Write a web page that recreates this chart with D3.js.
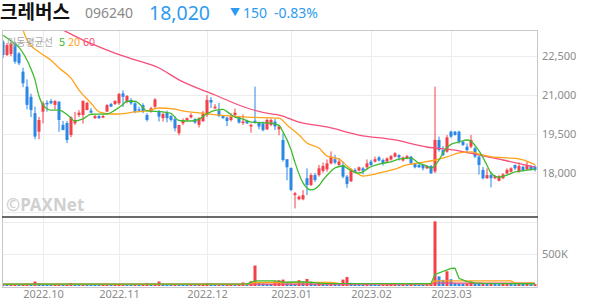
<!DOCTYPE html>
<html>
<head>
<meta charset="utf-8">
<script src="https://cdn.jsdelivr.net/npm/d3@7"></script>
<style>
	body { margin: 0; background: #fff; }
	text { font-family: "Noto Sans", "Noto Sans CJK KR", sans-serif; }
</style>
</head>
<body>
<div id="chart"></div>
<script>
/*********************************************************** DONNEES *****/

// trading days shown on the chart
const dates = [
	"2022.09.19","2022.09.20","2022.09.21","2022.09.22","2022.09.23","2022.09.26","2022.09.27","2022.09.28","2022.09.29","2022.09.30",
	"2022.10.04","2022.10.05","2022.10.06","2022.10.07","2022.10.11","2022.10.12","2022.10.13","2022.10.14","2022.10.17","2022.10.18",
	"2022.10.19","2022.10.20","2022.10.21","2022.10.24","2022.10.25","2022.10.26","2022.10.27","2022.10.28","2022.10.31",
	"2022.11.01","2022.11.02","2022.11.03","2022.11.04","2022.11.07","2022.11.08","2022.11.09","2022.11.10","2022.11.11","2022.11.14",
	"2022.11.15","2022.11.16","2022.11.17","2022.11.18","2022.11.21","2022.11.22","2022.11.23","2022.11.24","2022.11.25","2022.11.28",
	"2022.11.29","2022.11.30",
	"2022.12.01","2022.12.02","2022.12.05","2022.12.06","2022.12.07","2022.12.08","2022.12.09","2022.12.12","2022.12.13","2022.12.14",
	"2022.12.15","2022.12.16","2022.12.19","2022.12.20","2022.12.21","2022.12.22","2022.12.23","2022.12.26","2022.12.27","2022.12.28",
	"2022.12.29",
	"2023.01.02","2023.01.03","2023.01.04","2023.01.05","2023.01.06","2023.01.09","2023.01.10","2023.01.11","2023.01.12","2023.01.13",
	"2023.01.16","2023.01.17","2023.01.18","2023.01.19","2023.01.20","2023.01.25","2023.01.26","2023.01.27","2023.01.30","2023.01.31",
	"2023.02.01","2023.02.02","2023.02.03","2023.02.06","2023.02.07","2023.02.08","2023.02.09","2023.02.10","2023.02.13","2023.02.14",
	"2023.02.15","2023.02.16","2023.02.17","2023.02.20","2023.02.21","2023.02.22","2023.02.23","2023.02.24","2023.02.27","2023.02.28",
	"2023.03.02","2023.03.03","2023.03.06","2023.03.07","2023.03.08","2023.03.09","2023.03.10","2023.03.13","2023.03.14","2023.03.15",
	"2023.03.16","2023.03.17","2023.03.20","2023.03.21","2023.03.22","2023.03.23","2023.03.24","2023.03.27","2023.03.28","2023.03.29",
	"2023.03.30","2023.03.31"
];

const open = [
	23050,22540,22580,22990,22600,21900,21320,20930,20300,19590,
	20360,20700,20770,20620,20740,19850,19920,19460,19910,20230,
	20230,20420,20400,20110,20190,20130,20360,20650,20650,20680,
	21060,20740,20810,20680,20450,20610,20230,20360,20550,20360,
	20110,20330,20190,20070,19530,19910,20040,20140,20070,19850,
	19990,20230,20810,20490,20400,20190,20130,20040,20230,20170,
	19920,20000,19790,20010,19940,19910,19680,19850,19980,19680,
	19270,18530,18200,17150,16990,16990,17800,17540,17920,17920,
	18080,18140,18370,18530,18310,18310,17860,17680,18120,18090,
	18180,18220,18440,18440,18600,18500,18440,18520,18630,18690,
	18480,18560,18630,18350,18310,18310,18180,18270,18060,19270,
	18880,18820,19590,19590,19590,19200,19010,19010,18950,18630,
	18120,17800,17920,17800,17700,17800,17980,18050,18310,18050,
	18240,18140,18270,18240
];
const high = [
	23120,23000,23050,23050,22650,22050,21600,21050,20550,20160,
	20750,20800,20850,20800,20770,20000,20000,20180,20350,20420,
	20800,20740,20500,20230,20230,20230,20650,20700,20800,21080,
	21180,21000,20880,20740,20550,20680,20300,20550,20880,20420,
	20320,20400,20230,20180,19850,20100,20130,20300,20110,20150,
	20380,21000,20920,20650,20700,20230,20170,20300,20480,20200,
	20250,20050,19900,21320,19980,19980,20100,20100,20080,19830,
	19520,18530,18200,17270,17140,17340,18180,17990,18000,18310,
	18400,18520,18830,18700,18570,18440,17920,18180,18180,18250,
	18230,18520,18510,18630,18650,18560,18600,18690,18800,18720,
	18630,18700,18660,18380,18340,18350,18300,18310,21320,19400,
	19030,19460,19630,19620,19630,19260,19140,19460,19020,18690,
	18230,18180,18050,17920,17920,17990,18180,18220,18320,18410,
	18280,18440,18300,18300
];
const low = [
	22420,22500,22500,22200,22150,21300,20450,20150,19300,19300,
	19910,20360,20640,20450,19580,19650,19150,19380,19850,20150,
	19900,20420,20300,20080,20080,20110,20360,20550,20620,20620,
	20540,20680,20620,20300,20360,20300,19980,20320,20480,19980,
	19980,19950,19980,19600,19450,19850,20000,20100,19900,19750,
	19970,20150,20500,20450,20150,20080,19800,19980,20150,19900,
	19850,19880,19550,19900,19680,19600,19650,19800,19650,19450,
	18440,17720,17300,16640,16950,16950,17150,17500,17660,17860,
	18010,18050,18330,18340,18280,17800,17430,17650,17990,18060,
	17950,18150,18260,18400,18440,18290,18400,18480,18600,18480,
	18440,18530,18340,18180,18200,18100,18150,17960,18000,18820,
	18650,18780,19340,19440,19130,19040,18750,18950,18570,17940,
	17750,17770,17450,17760,17680,17760,17940,18020,18120,18010,
	18060,18100,18100,18060
];
const close = [
	22540,22920,22990,22280,22220,21450,20620,20420,19400,20040,
	20680,20640,20680,20770,20040,19650,19270,20140,20040,20320,
	20770,20700,20320,20190,20110,20190,20610,20550,20770,21040,
	20930,20960,20680,20360,20400,20360,20040,20490,20830,20170,
	20270,20110,20040,19720,19850,20040,20110,20230,19940,20100,
	20320,20810,20710,20550,20190,20110,20000,20170,20320,19940,
	19980,19910,19850,19940,19790,19650,20040,20040,19790,19790,
	18500,18220,17350,17220,17090,17150,17540,17920,17730,18180,
	18270,18370,18630,18400,18440,17860,17580,18120,18010,18220,
	18090,18370,18310,18530,18480,18370,18560,18650,18760,18600,
	18600,18650,18370,18220,18220,18180,18270,17990,19270,18880,
	18690,19370,19400,19460,19200,19080,18880,19270,18630,18310,
	17800,17920,17800,17880,17880,17950,18120,18180,18180,18270,
	18090,18310,18140,18120
];
const volume = [
	30000,25000,28000,30000,28000,32000,35000,33000,70000,40000,
	30000,25000,22000,25000,30000,28000,30000,45000,30000,25000,
	32000,28000,25000,22000,20000,22000,30000,25000,28000,32000,
	35000,28000,25000,30000,22000,28000,40000,30000,35000,70000,
	35000,30000,28000,32000,30000,25000,22000,25000,22000,28000,
	30000,42000,35000,28000,30000,25000,28000,30000,28000,30000,
	55000,35000,75000,320000,55000,40000,35000,32000,75000,90000,
	100000,45000,42000,35000,90000,70000,110000,70000,35000,50000,
	30000,28000,35000,30000,28000,100000,140000,50000,30000,28000,
	25000,30000,28000,25000,22000,25000,28000,30000,32000,25000,
	28000,25000,30000,28000,25000,22000,28000,30000,1010000,150000,
	95000,230000,105000,50000,40000,38000,40000,70000,45000,40000,
	45000,35000,40000,30000,28000,32000,35000,30000,28000,35000,
	30000,32000,28000,30000
];

// moving averages: [day index, value]
const ma5 = [
	[0,23300],[2,23080],[4,22830],[7,22000],[8,21580],[9,20950],[10,20620],[12,20420],[14,20420],[16,20250],
	[18,20000],[20,20080],[22,20260],[26,20270],[28,20420],[30,20640],[31,20760],[33,20760],[34,20670],[36,20390],
	[40,20350],[42,20290],[44,20020],[47,20000],[49,20070],[51,20280],[53,20410],[55,20450],[56,20360],[58,20150],
	[60,20070],[62,19960],[67,19920],[69,19830],[70,19580],[72,18900],[73,18400],[75,17620],[77,17350],[79,17520],
	[80,17730],[82,18070],[83,18200],[85,18270],[86,18190],[88,18020],[89,18000],[92,18240],[94,18340],[97,18430],
	[99,18530],[102,18570],[104,18380],[106,18270],[107,18190],[109,18500],[110,18770],[112,19100],[114,19190],[116,19270],
	[117,19220],[119,18850],[121,18300],[122,18000],[124,17840],[126,17920],[128,18040],[131,18110],[133,18150]
];
const ma20 = [
	[5,23500],[6,23120],[9,22650],[12,22340],[14,22040],[17,21650],[19,21190],[22,20690],[24,20350],[27,20270],
	[29,20270],[33,20350],[36,20390],[39,20500],[43,20460],[44,20420],[49,20310],[57,20190],[61,20150],[69,20110],
	[71,19850],[74,19460],[76,19150],[79,18960],[81,18650],[84,18540],[86,18270],[88,18040],[90,17880],[93,17960],
	[94,18000],[98,18150],[101,18310],[104,18390],[108,18500],[111,18620],[114,18770],[117,18810],[119,18730],[123,18610],
	[126,18580],[129,18540],[132,18390],[133,18310]
];
const ma60 = [
	[15,23500],[16,23420],[21,23040],[26,22730],[32,22400],[39,22040],[44,21580],[53,21000],[61,20500],[67,20270],
	[69,20230],[74,19960],[81,19770],[89,19460],[98,19270],[106,19000],[113,18880],[118,18730],[125,18500],[133,18230]
];
const vma5 = [
	[0,30000],[61,32000],[63,80000],[68,80000],[70,60000],[75,65000],[80,40000],[107,38000],[108,180000],[112,275000],
	[113,280000],[114,120000],[116,70000],[118,50000],[120,40000],[133,35000]
];
const vma20 = [
	[0,25000],[61,28000],[63,55000],[82,55000],[84,40000],[107,38000],[108,80000],[127,80000],[128,45000],[133,45000]
];
const vma60 = [[0,28000],[107,30000],[108,45000],[133,45000]];

const priceTicks = [16500, 18000, 19500, 21000, 22500];
const volumeTicks = [500000, 1000000];
const monthLabels = ["2022.10","2022.11","2022.12","2023.01","2023.02","2023.03"];

/*********************************************************** CARTE *****/

const width = 594, height = 304;
const plotLeft = 2, plotRight = 537, plotTop = 30, plotSplit = 217, plotBottom = 287;
const up = "#f2414b", down = "#2b88e6";
const c5 = "#3dbb2e", c20 = "#ffa31a", c60 = "#f74f78";

const svg = d3.select("#chart")
	.append("svg")
	.attr("width", width)
	.attr("height", height);

const x = d3.scalePoint().domain(dates).range([3, 535]);
const xi = d3.scaleLinear().domain([0, dates.length - 1]).range([3, 535]);
const y = d3.scaleLinear().domain([16500, 22500]).range([212, 56]);
const yv = d3.scaleLinear().domain([0, 1000000]).range([286, 222]);

svg.append("clipPath").attr("id", "clipP")
	.append("rect").attr("x", plotLeft).attr("y", plotTop).attr("width", plotRight - plotLeft).attr("height", plotSplit - plotTop);
svg.append("clipPath").attr("id", "clipV")
	.append("rect").attr("x", plotLeft).attr("y", plotSplit).attr("width", plotRight - plotLeft).attr("height", plotBottom - plotSplit);

// month ticks: first trading day of each month
const monthStarts = dates.filter((d, i) => i > 0 && d.slice(0, 7) != dates[i - 1].slice(0, 7));

// grid
const grid = svg.append("g").attr("stroke", "#ececec").attr("stroke-width", 1);
grid.selectAll(".v")
	.data(monthStarts)
	.enter()
	.append("line")
	.attr("x1", d => Math.round(x(d)) + 0.5)
	.attr("x2", d => Math.round(x(d)) + 0.5)
	.attr("y1", plotTop)
	.attr("y2", plotBottom);
grid.selectAll(".hp")
	.data(priceTicks)
	.enter()
	.append("line")
	.attr("x1", plotLeft).attr("x2", plotRight)
	.attr("y1", d => Math.round(y(d)) + 0.5)
	.attr("y2", d => Math.round(y(d)) + 0.5);
grid.selectAll(".hv")
	.data(volumeTicks)
	.enter()
	.append("line")
	.attr("x1", plotLeft).attr("x2", plotRight)
	.attr("y1", d => Math.round(yv(d)) + 0.5)
	.attr("y2", d => Math.round(yv(d)) + 0.5);

// watermark
svg.append("text")
	.attr("x", 6)
	.attr("y", 211)
	.attr("font-size", 17)
	.attr("font-weight", "bold")
	.attr("fill", "#d0d0d0")
	.text("©PAXNet");

// candles
const candles = svg.append("g").attr("clip-path", "url(#clipP)");
const idx = d3.range(dates.length);

candles.selectAll("line")
	.data(idx)
	.enter()
	.append("line")
	.attr("x1", i => x(dates[i]))
	.attr("x2", i => x(dates[i]))
	.attr("y1", i => y(high[i]))
	.attr("y2", i => y(low[i]))
	.attr("stroke", i => close[i] >= open[i] ? up : down)
	.attr("stroke-width", 1);

candles.selectAll("rect")
	.data(idx)
	.enter()
	.append("rect")
	.attr("x", i => x(dates[i]) - 1.5)
	.attr("width", 3)
	.attr("y", i => y(Math.max(open[i], close[i])))
	.attr("height", i => Math.max(1, Math.abs(y(open[i]) - y(close[i]))))
	.attr("fill", i => close[i] >= open[i] ? up : down);

// moving averages
const maLine = d3.line()
	.x(d => xi(d[0]))
	.y(d => y(d[1]))
	.curve(d3.curveMonotoneX);

const mas = svg.append("g").attr("clip-path", "url(#clipP)").attr("fill", "none").attr("stroke-width", 1.3);
mas.append("path").attr("d", maLine(ma60)).attr("stroke", c60);
mas.append("path").attr("d", maLine(ma20)).attr("stroke", c20);
mas.append("path").attr("d", maLine(ma5)).attr("stroke", c5);

// volume
const vol = svg.append("g").attr("clip-path", "url(#clipV)");
vol.selectAll("rect")
	.data(idx)
	.enter()
	.append("rect")
	.attr("x", i => x(dates[i]) - 1.5)
	.attr("width", 3)
	.attr("y", i => yv(volume[i]))
	.attr("height", i => yv(0) - yv(volume[i]))
	.attr("fill", i => (i == 0 || volume[i] >= volume[i - 1]) ? up : down);

const vLine = d3.line()
	.x(d => xi(d[0]))
	.y(d => yv(d[1]));

vol.append("path").attr("d", vLine(vma60)).attr("fill", "none").attr("stroke", c60).attr("stroke-width", 1.3);
vol.append("path").attr("d", vLine(vma20)).attr("fill", "none").attr("stroke", c20).attr("stroke-width", 1.3);
vol.append("path").attr("d", vLine(vma5)).attr("fill", "none").attr("stroke", c5).attr("stroke-width", 1.3);

// frame
svg.append("rect")
	.attr("x", plotLeft + 0.5).attr("y", plotTop + 0.5)
	.attr("width", plotRight - plotLeft).attr("height", plotBottom - plotTop)
	.attr("fill", "none")
	.attr("stroke", "#c8c8c8");
svg.append("line")
	.attr("x1", plotLeft).attr("x2", plotRight + 1)
	.attr("y1", plotSplit).attr("y2", plotSplit)
	.attr("stroke", "#3a3a3a")
	.attr("stroke-width", 1.5);

// axes
const yAxis = d3.axisRight(y)
	.tickValues(priceTicks.filter(d => d > 16500))
	.tickFormat(d3.format(","))
	.tickSize(0)
	.tickPadding(5);
svg.append("g")
	.attr("transform", "translate(" + plotRight + ",0)")
	.call(yAxis)
	.call(g => g.select(".domain").remove())
	.selectAll("text")
	.attr("font-size", 11)
	.attr("fill", "#8c8c8c")
	.style("font-family", "'Noto Sans', sans-serif");

const vAxis = d3.axisRight(yv)
	.tickValues([500000])
	.tickFormat(d => (d / 1000) + "K")
	.tickSize(0)
	.tickPadding(5);
svg.append("g")
	.attr("transform", "translate(" + plotRight + ",0)")
	.call(vAxis)
	.call(g => g.select(".domain").remove())
	.selectAll("text")
	.attr("font-size", 11)
	.attr("fill", "#8c8c8c")
	.style("font-family", "'Noto Sans', sans-serif");

const xAxis = d3.axisBottom(x)
	.tickValues(monthStarts)
	.tickFormat((d, i) => monthLabels[i])
	.tickSize(0)
	.tickPadding(3);
svg.append("g")
	.attr("transform", "translate(0," + plotBottom + ")")
	.call(xAxis)
	.call(g => g.select(".domain").remove())
	.selectAll("text")
	.attr("font-size", 11)
	.attr("fill", "#8c8c8c")
	.style("font-family", "'Noto Sans', sans-serif");

// legend
const legend = svg.append("text")
	.attr("x", 7)
	.attr("y", 46)
	.attr("font-size", 11)
	.style("font-family", "'Noto Sans CJK KR', sans-serif");
legend.append("tspan").attr("fill", "#a8a8a8").attr("font-size", 10).text("이동평균선");
legend.append("tspan").attr("x", 59).attr("fill", c5).text("5");
legend.append("tspan").attr("x", 68).attr("fill", c20).text("20");
legend.append("tspan").attr("x", 83).attr("fill", c60).text("60");

// header
const header = svg.append("g").style("font-family", "'Noto Sans CJK KR', 'Noto Sans', sans-serif");
header.append("text")
	.attr("x", 0).attr("y", 19)
	.attr("font-size", 19)
	.attr("font-weight", "bold")
	.attr("fill", "#111")
	.text("크레버스");
header.append("text")
	.attr("x", 85).attr("y", 18)
	.attr("font-size", 14)
	.attr("fill", "#8a8a8a")
	.text("096240");
header.append("text")
	.attr("x", 149).attr("y", 20)
	.attr("font-size", 19.5)
	.attr("fill", "#2d9bf0")
	.text("18,020");
header.append("text")
	.attr("x", 230).attr("y", 16)
	.attr("font-size", 10)
	.attr("fill", "#2d9bf0")
	.text("▼");
header.append("text")
	.attr("x", 243).attr("y", 18)
	.attr("font-size", 14)
	.attr("fill", "#2d9bf0")
	.text("150");
header.append("text")
	.attr("x", 274).attr("y", 18)
	.attr("font-size", 14)
	.attr("fill", "#2d9bf0")
	.text("-0.83%");
</script>
</body>
</html>
